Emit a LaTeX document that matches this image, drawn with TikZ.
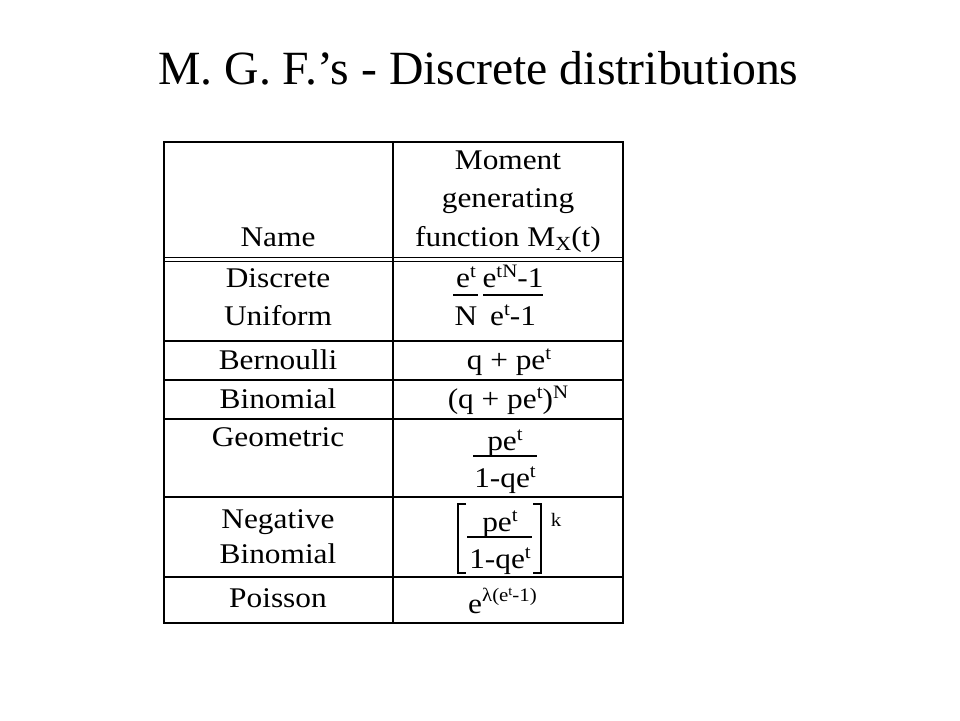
\documentclass[tikz,border=0pt]{standalone}
\usepackage{fontspec}
\setmainfont{Liberation Serif}
\newfontfamily\tabfont[FakeStretch=1.1]{Liberation Serif}
\newcommand\supA[1]{\raisebox{10pt}{\fontsize{19}{19}\selectfont #1}}
\newcommand\supB[1]{\raisebox{6pt}{\fontsize{13}{13}\selectfont #1}}
\newcommand\subA[1]{\raisebox{-4pt}{\fontsize{20}{20}\selectfont #1}}
\begin{document}
\begin{tikzpicture}[x=1pt,y=-1pt,
  border/.style={line width=2pt},
  thinrule/.style={line width=1.3pt},
  txt/.style={inner sep=0pt, anchor=base, font=\tabfont\fontsize{28.5}{34}\selectfont},
  fracbar/.style={line width=1.6pt},
  brack/.style={line width=1.5pt}]
\useasboundingbox[fill=white] (0,0) rectangle (960,720);
\node[anchor=base, inner sep=0pt, font=\fontsize{47.7}{56}\selectfont] (title) at (478.5,84.3) {M. G. F.’s - Discrete distributions};
% table rules
\draw[border] (163.5,142) rectangle (623.3,622.7);
\draw[border] (393,142) -- (393,622.7);
\draw[thinrule] (163.5,257.7) -- (623.3,257.7);
\draw[thinrule] (163.5,261.3) -- (623.3,261.3);
\foreach \yy in {340.7,380,418.5,497.3,577} \draw[border] (163.5,\yy) -- (623.3,\yy);
% header
\node[txt] (name) at (278,246) {Name};
\node[txt] (mom) at (508,169) {Moment};
\node[txt] (gen) at (508,207.5) {generating};
\node[txt] (fun) at (508,246) {function M\subA{X}(t)};
% discrete uniform
\node[txt] (du1) at (278,287) {Discrete};
\node[txt] (du2) at (278,325) {Uniform};
\node[txt] (f1n) at (466,287) {e\supA{t}};
\node[txt] (f1d) at (466,325) {N};
\draw[fracbar] (453,294.7) -- (478,294.7);
\node[txt] (f2n) at (513,287) {e\supA{tN}-1};
\node[txt] (f2d) at (513,325) {e\supA{t}-1};
\draw[fracbar] (483,294.7) -- (543,294.7);
% bernoulli
\node[txt] (ber) at (278,369) {Bernoulli};
\node[txt] (berf) at (509,369) {q + pe\supA{t}};
% binomial
\node[txt] (bin) at (278,408.5) {Binomial};
\node[txt] (binf) at (508,408.5) {(q + pe\supA{t})\supA{N}};
% geometric
\node[txt] (geo) at (278,446) {Geometric};
\node[txt] (geon) at (505,450) {pe\supA{t}};
\node[txt] (geod) at (505,487) {1-qe\supA{t}};
\draw[fracbar] (473,455.7) -- (537,455.7);
% negative binomial
\node[txt] (nb1) at (278,528) {Negative};
\node[txt] (nb2) at (278,563) {Binomial};
\node[txt] (nbn) at (500,531) {pe\supA{t}};
\node[txt] (nbd) at (500,568) {1-qe\supA{t}};
\draw[fracbar] (467,537) -- (532,537);
\draw[brack] (466,504) -- (458,504) -- (458,573) -- (466,573);
\draw[brack] (533,504) -- (541,504) -- (541,573) -- (533,573);
\node[inner sep=0pt, anchor=base, font=\tabfont\fontsize{19}{19}\selectfont] (nbk) at (556,526) {k};
% poisson
\node[txt, anchor=base west] (poif) at (468,613) {e\raisebox{12pt}{\fontsize{19}{19}\selectfont λ(e\supB{t}-1)}};
\node[txt] (poi) at (278,607) {Poisson};
\end{tikzpicture}
\end{document}
